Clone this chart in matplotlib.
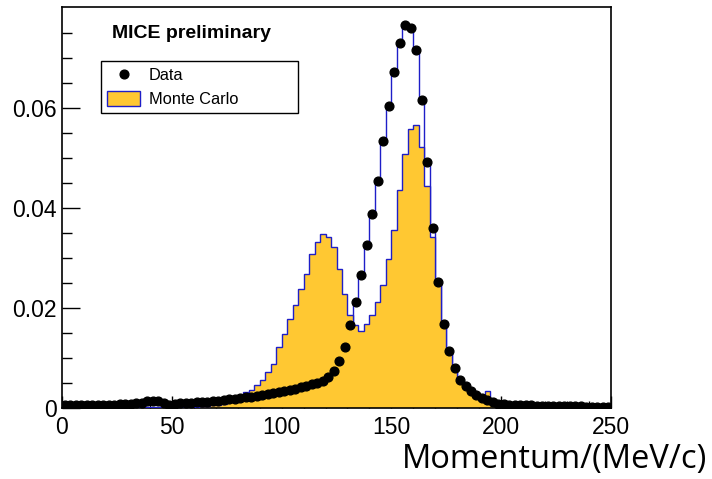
import numpy as np
import matplotlib
matplotlib.use("Agg")
import matplotlib.pyplot as plt
from matplotlib.lines import Line2D
from matplotlib.patches import Patch
from matplotlib.ticker import MultipleLocator, FixedLocator

# 100 bins of 2.5 MeV/c from 0 to 250
edges = np.linspace(0, 250, 101)

data = [
    0.0006, 0.0005, 0.0005, 0.0005, 0.0005, 0.0005, 0.0006, 0.0006, 0.0006, 0.0006,
    0.0007, 0.0007, 0.0008, 0.0009, 0.0010, 0.0013, 0.0014, 0.0014, 0.0010, 0.0006,
    0.0008, 0.0009, 0.0009, 0.0010, 0.0011, 0.0012, 0.0012, 0.0013, 0.0014, 0.0015,
    0.0017, 0.0018, 0.0019, 0.0021, 0.0022, 0.0024, 0.0025, 0.0027, 0.0029, 0.0031,
    0.0033, 0.0035, 0.0038, 0.0041, 0.0044, 0.0047, 0.0050, 0.0054, 0.0061, 0.0074,
    0.0094, 0.0121, 0.0165, 0.0211, 0.0265, 0.0326, 0.0387, 0.0454, 0.0534, 0.0604,
    0.0672, 0.0729, 0.0765, 0.0759, 0.0716, 0.0616, 0.0491, 0.0359, 0.0251, 0.0168,
    0.0114, 0.0079, 0.0056, 0.0044, 0.0034, 0.0026, 0.0019, 0.0015, 0.0011, 0.0008,
    0.0007, 0.0006, 0.0006, 0.0005, 0.0005, 0.0005, 0.0004, 0.0004, 0.0004, 0.0004,
    0.0003, 0.0003, 0.0003, 0.0003, 0.0003, 0.0002, 0.0002, 0.0002, 0.0002, 0.0002,
]

monte_carlo = [
    0.0001, 0.0001, 0.0001, 0.0001, 0.0001, 0.0001, 0.0001, 0.0001, 0.0001, 0.0001,
    0.0001, 0.0001, 0.0001, 0.0001, 0.0001, 0.0001, 0.0001, 0.0001, 0.0001, 0.0001,
    0.0001, 0.0001, 0.0001, 0.0002, 0.0002, 0.0003, 0.0004, 0.0005, 0.0006, 0.0008,
    0.0012, 0.0018, 0.0026, 0.0031, 0.0036, 0.0045, 0.0055, 0.0071, 0.0088, 0.0121,
    0.0147, 0.0177, 0.0206, 0.0237, 0.0267, 0.0308, 0.0331, 0.0347, 0.0342, 0.0321,
    0.0278, 0.0228, 0.0186, 0.0165, 0.0153, 0.0168, 0.0186, 0.0211, 0.0246, 0.0298,
    0.0355, 0.0435, 0.0507, 0.0557, 0.0566, 0.0521, 0.0443, 0.0341, 0.0250, 0.0166,
    0.0115, 0.0082, 0.0058, 0.0043, 0.0032, 0.0024, 0.0017, 0.0033, 0.0005, 0.0003,
    0.0001, 0.0001, 0.0001, 0.0001, 0.0001, 0.0, 0.0, 0.0, 0.0, 0.0,
    0.0, 0.0, 0.0, 0.0, 0.0, 0.0, 0.0, 0.0, 0.0, 0.0,
]

y_ticks = [0, 0.02, 0.04, 0.06]
y_tick_labels = ["0", "0.02", "0.04", "0.06"]

centers = 0.5 * (edges[:-1] + edges[1:])
mc_fill = "#ffc832"
line_blue = "#1e1ec8"

plt.rcParams['font.family'] = ['Liberation Sans', 'DejaVu Sans']

fig = plt.figure(figsize=(7.12, 4.79), dpi=100)
ax = fig.add_axes([62 / 712, 1 - 408 / 479, 549 / 712, 401 / 479])

# data outline sits under the MC fill, visible only where data > MC
ax.stairs(data, edges, color=line_blue, linewidth=1.0, zorder=1)
ax.stairs(monte_carlo, edges, fill=True, color=mc_fill, zorder=2)
ax.stairs(monte_carlo, edges, color=line_blue, linewidth=1.0, zorder=3)
ax.plot(centers, data, 'o', color='black', markersize=6.3, zorder=4)

ax.set_xlim(0, 250)
ax.set_ylim(0, 0.0801)

ax.xaxis.set_major_locator(MultipleLocator(50))
ax.xaxis.set_minor_locator(MultipleLocator(10))
ax.yaxis.set_major_locator(FixedLocator(y_ticks))
ax.set_yticklabels(y_tick_labels)
ax.yaxis.set_minor_locator(FixedLocator(np.arange(0, 0.0781, 0.005)))

ax.tick_params(axis='both', which='both', direction='in', top=False, right=False,
               labelsize=16.5, width=1.0)
ax.tick_params(axis='y', which='major', length=13, pad=4)
ax.tick_params(axis='y', which='minor', length=7)
ax.tick_params(axis='x', which='major', length=9, pad=6)
ax.tick_params(axis='x', which='minor', length=5)
for sp in ax.spines.values():
    sp.set_linewidth(1.2)

ax.text(0.091, 0.935, "MICE preliminary", transform=ax.transAxes,
        fontsize=14, fontweight='bold', va='center', ha='left')

handles = [
    Line2D([], [], marker='o', linestyle='none', color='black', markersize=6.3),
    Patch(facecolor=mc_fill, edgecolor=line_blue, linewidth=1.0),
]
leg = ax.legend(handles, ["Data", "Monte Carlo"], loc='upper left',
                bbox_to_anchor=(0.071, 0.733, 0.359, 0.132), mode='expand',
                fontsize=11.8, frameon=True, fancybox=False, edgecolor='black',
                framealpha=1, borderpad=0.35, labelspacing=0.45,
                handlelength=2.05, handleheight=1.1, handletextpad=0.5,
                borderaxespad=0)
leg.get_frame().set_linewidth(1.0)

fig.text(707 / 712, 1 - 468 / 479, "Momentum/(MeV/c)", family=['Open Sans', 'DejaVu Sans'],
         fontsize=23.5, ha='right', va='baseline')

fig.savefig("out.png", dpi=100)
